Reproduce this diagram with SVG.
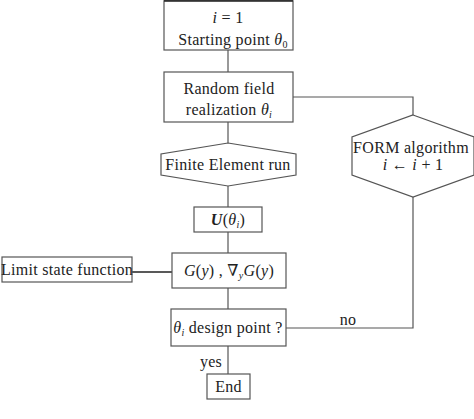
<svg xmlns="http://www.w3.org/2000/svg" width="474" height="419" viewBox="0 0 474 419">
<style>
.n{fill:#fff;stroke:#555;stroke-width:1.2}
.c{fill:none;stroke:#555;stroke-width:1.2}
text{font-family:"Liberation Serif","DejaVu Serif",serif;font-size:16px;fill:#222;text-anchor:middle;letter-spacing:0.3px}
.m{font-style:italic}
</style>
<rect width="474" height="419" fill="#fff"/>
<g id="connectors">
<line class="c" x1="228" y1="50" x2="228" y2="72"/>
<line class="c" x1="228" y1="122" x2="228" y2="143"/>
<line class="c" x1="228" y1="186" x2="228" y2="207"/>
<line class="c" x1="228" y1="232" x2="228" y2="253"/>
<line class="c" x1="228" y1="288" x2="228" y2="309"/>
<line class="c" x1="228" y1="346" x2="228" y2="374"/>
<line x1="132" y1="272" x2="172" y2="272" stroke="#222" stroke-width="1.5"/>
<polyline class="c" points="293,97 413,97 413,115"/>
<polyline class="c" points="413,197 413,328 286,328"/>
<text x="348" y="325">no</text>
<text x="211" y="367">yes</text>
</g>
<g id="start">
<rect class="n" x="164" y="0.8" width="129" height="49.2"/>
<line x1="164" y1="0.8" x2="293" y2="0.8" stroke="#333" stroke-width="2"/>
<text x="228" y="23"><tspan class="m">i</tspan> = 1</text>
<text x="233" y="45">Starting point <tspan class="m">θ</tspan><tspan font-size="10" dy="3">0</tspan></text>
</g>
<g id="random">
<rect class="n" x="164" y="72" width="129" height="50"/>
<text x="229" y="94">Random field</text>
<text x="229" y="115">realization <tspan class="m">θ</tspan><tspan class="m" font-size="10" dy="3">i</tspan></text>
</g>
<g id="fe">
<polygon class="n" points="228,143 296,154 296,175 228,186 161,175 161,154"/>
<text x="228" y="170">Finite Element run</text>
</g>
<g id="u">
<rect class="n" x="194" y="207" width="68" height="25"/>
<text x="228" y="225"><tspan font-weight="bold" font-style="italic">U</tspan>(<tspan class="m">θ</tspan><tspan class="m" font-size="10" dy="3">i</tspan><tspan dy="-3">)</tspan></text>
</g>
<g id="g">
<rect class="n" x="172" y="253" width="114" height="35"/>
<text x="229" y="276"><tspan class="m">G</tspan>(<tspan class="m">y</tspan>) , ∇<tspan class="m" font-size="10" dy="3">y</tspan><tspan class="m" dy="-3">G</tspan>(<tspan class="m">y</tspan>)</text>
</g>
<g id="limit">
<rect class="n" x="2" y="257" width="130" height="25"/>
<text x="67" y="275">Limit state function</text>
</g>
<g id="design">
<rect class="n" x="171" y="309" width="115" height="37"/>
<text x="228" y="333"><tspan class="m">θ</tspan><tspan class="m" font-size="10" dy="3">i</tspan><tspan dy="-3"> design point ?</tspan></text>
</g>
<g id="end">
<rect class="n" x="207" y="374" width="43" height="25"/>
<text x="228.5" y="392">End</text>
</g>
<g id="form">
<polygon class="n" points="413,115 474,137 474,175 413,197 352,175 352,137"/>
<text x="411" y="153" font-size="15.5">FORM algorithm</text>
<text x="413" y="170" font-size="15"><tspan class="m">i</tspan> ← <tspan class="m">i</tspan> + 1</text>
</g>
</svg>
